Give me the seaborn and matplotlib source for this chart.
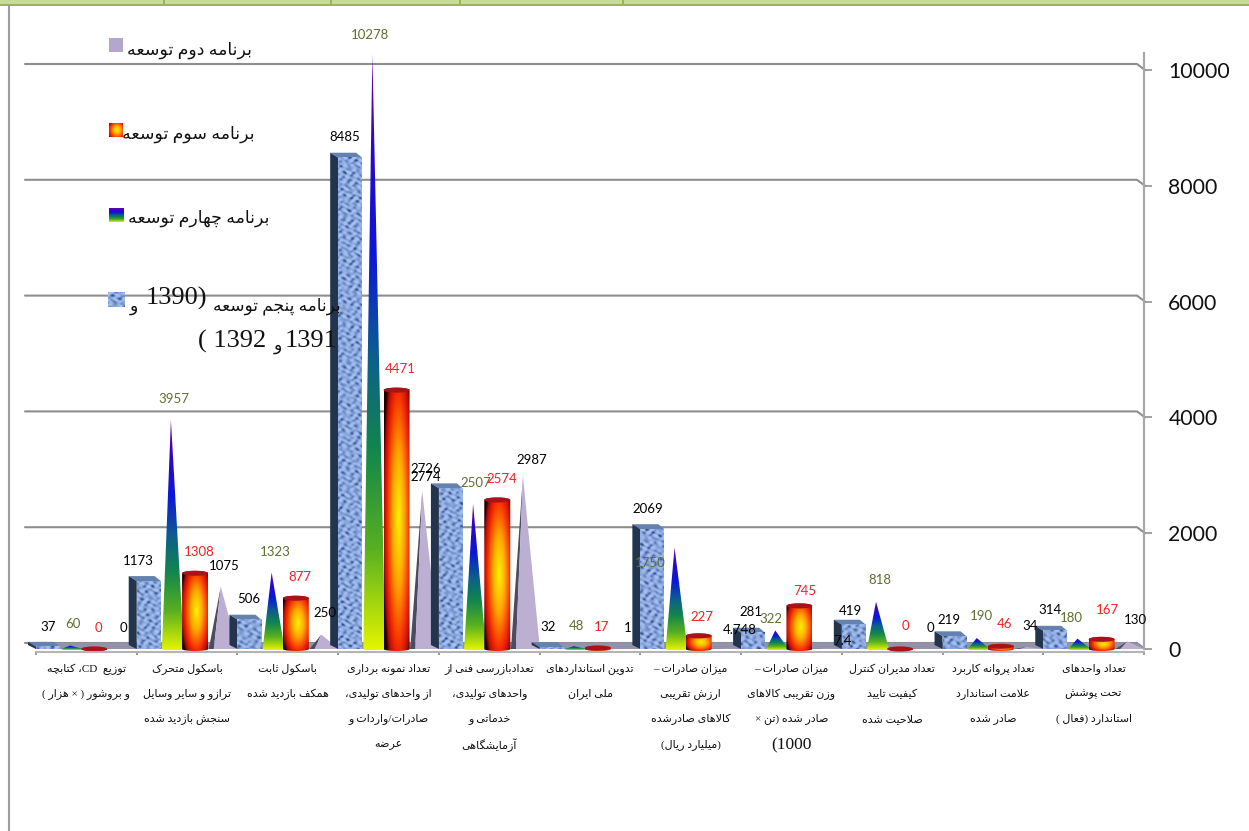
import matplotlib
matplotlib.use('Agg')
import re
import numpy as np
import pandas as pd
import matplotlib.pyplot as plt
import seaborn as sns
from matplotlib.colors import LinearSegmentedColormap
from matplotlib.lines import Line2D
from matplotlib.patches import Polygon, Rectangle
from matplotlib.transforms import Affine2D, blended_transform_factory

# Data
categories = [
    'توزیع  CD، کتابچه\nو بروشور ( × هزار )',
    'باسکول متحرک\nترازو و سایر وسایل\nسنجش بازدید شده',
    'باسکول ثابت\nهمکف بازدید شده',
    'تعداد نمونه برداری\nاز واحدهای تولیدی،\nصادرات/واردات و\nعرضه',
    'تعدادبازرسی فنی از\nواحدهای تولیدی،\nخدماتی و\nآزمایشگاهی',
    'تدوین استانداردهای\nملی ایران',
    'میزان صادرات –\nارزش تقریبی\nکالاهای صادرشده\n(میلیارد ریال)',
    'میزان صادرات –\nوزن تقریبی کالاهای\nصادر شده (تن ×\n1000)',
    'تعداد مدیران کنترل\nکیفیت تایید\nصلاحیت شده',
    'تعداد پروانه کاربرد\nعلامت استاندارد\nصادر شده',
    'تعداد واحدهای\nتحت پوشش\nاستاندارد (فعال )',
]
plan5 = [37, 1173, 506, 8485, 2774, 32, 2069, 281, 419, 219, 314]
plan4 = [60, 3957, 1323, 10278, 2507, 48, 1750, 322, 818, 190, 180]
plan3 = [0, 1308, 877, 4471, 2574, 17, 227, 745, 0, 46, 167]
plan2 = [0, 1075, 250, 2726, 2987, 1, 4.748, 7.4, 0, 34, 130]
y_ticks = [0, 2000, 4000, 6000, 8000, 10000]

legend_names = ['برنامه دوم توسعه', 'برنامه سوم توسعه', 'برنامه چهارم توسعه']
legend_last = 'برنامه پنجم توسعه'

# where the value labels sit in the picture, in pixels
xy5 = [(48, 627), (138, 561), (249, 599), (345, 137), (426, 477), (548, 627),
       (648, 509), (751, 612), (850, 611), (949, 620), (1050, 610)]
xy4 = [(73, 624), (174, 399), (275, 552), (370, 35), (476, 483), (577, 626),
       (650, 563), (771, 619), (880, 580), (981, 616), (1071, 618)]
xy3 = [(98, 628), (199, 552), (300, 577), (400, 369), (502, 479), (602, 627),
       (702, 617), (805, 591), (905, 626), (1005, 624), (1107, 610)]
xy2 = [(123, 628), (224, 566), (325, 613), (426, 469), (532, 460), (628, 628),
       (740, 630), (843, 641), (930, 628), (1030, 626), (1135, 620)]

# Persian text has to be shaped by hand, matplotlib does not join letters
four_forms = {'ب': 0xFE8F, 'پ': 0xFB56, 'ت': 0xFE95, 'ث': 0xFE99, 'ج': 0xFE9D, 'چ': 0xFB7A,
              'ح': 0xFEA1, 'خ': 0xFEA5, 'س': 0xFEB1, 'ش': 0xFEB5, 'ص': 0xFEB9, 'ض': 0xFEBD,
              'ط': 0xFEC1, 'ظ': 0xFEC5, 'ع': 0xFEC9, 'غ': 0xFECD, 'ف': 0xFED1, 'ق': 0xFED5,
              'ک': 0xFB8E, 'گ': 0xFB92, 'ل': 0xFEDD, 'م': 0xFEE1, 'ن': 0xFEE5, 'ه': 0xFEE9,
              'ی': 0xFBFC}
two_forms = {'ا': 0xFE8D, 'آ': 0xFE81, 'د': 0xFEA9, 'ذ': 0xFEAB, 'ر': 0xFEAD, 'ز': 0xFEAF,
             'ژ': 0xFB8A, 'و': 0xFEED}


def fa(line):
    line = line.replace('لا', '\uFEFB')
    out = []
    for i, ch in enumerate(line):
        prev = line[i - 1] if i > 0 else ''
        nxt = line[i + 1] if i < len(line) - 1 else ''
        joined_before = prev in four_forms
        joined_after = nxt in four_forms or nxt in two_forms or nxt == '\uFEFB'
        if ch == '\uFEFB':
            out.append('\uFEFC' if joined_before else ch)
        elif ch in four_forms:
            form = {(0, 0): 0, (1, 0): 1, (0, 1): 2, (1, 1): 3}[(int(joined_before), int(joined_after))]
            out.append(chr(four_forms[ch] + form))
        elif ch in two_forms:
            out.append(chr(two_forms[ch] + int(joined_before)))
        else:
            out.append(ch)
    # visual order, right to left, with latin and digits kept as they are
    parts = re.split(r'([0-9A-Za-z.]+)', ''.join(out))
    swap = str.maketrans('()', ')(')
    return ''.join(p if re.fullmatch(r'[0-9A-Za-z.]+', p) else p[::-1].translate(swap)
                   for p in parts[::-1])


FA_FONT = ['Liberation Serif', 'DejaVu Sans']
W, H = 1249, 831
PX_X = 1108 / 11   # pixels per category
PX_Y = 579 / 10000  # pixels per unit

sns.set_theme(style='white')
plt.rcParams['font.family'] = ['Lato', 'DejaVu Sans']

fig = plt.figure(figsize=(W / 100, H / 100), dpi=100, facecolor='white')
ax = fig.add_axes([36 / W, (H - 649) / H, 1108 / W, 579 / H], facecolor='none')
px = Affine2D().scale(1 / W, -1 / H).translate(0, 1) + fig.transFigure

df = pd.DataFrame({'category': categories, 'plan5': plan5, 'plan4': plan4, 'plan3': plan3, 'plan2': plan2})
long_df = df.melt(id_vars='category', var_name='plan', value_name='value')
sns.barplot(data=long_df, x='category', y='value', hue='plan',
            hue_order=['plan5', 'plan4', 'plan3', 'plan2'],
            width=1, gap=0, errorbar=None, legend=False, ax=ax)
ax.set_xlim(-0.5, 10.5)
ax.set_ylim(0, 10000)
ax.set_xlabel('')
ax.set_ylabel('')


def X(p):
    return (p - 36) / PX_X - 0.5


def Y(p):
    return (649 - p) / PX_Y


cone_map = LinearSegmentedColormap.from_list('cone', ['#6c00a8', '#2a08c8', '#0a18d8', '#0c5c90', '#12864c',
                                                      '#58b020', '#e2f400'])
cyl_map = LinearSegmentedColormap.from_list('cyl', [(0, '#fff200'), (0.35, '#ffa800'), (0.7, '#f42800'),
                                                    (0.88, '#b00c08'), (1, '#200000')])
tex_map = LinearSegmentedColormap.from_list('tex', ['#34508c', '#6d8dca', '#92aee2', '#a8c2ee'])


def texture(w, h, x0=0.0):
    # mottled blue pattern of the box bars
    xx, yy = np.meshgrid(np.arange(max(int(w), 2)) + x0, np.arange(max(int(h), 2)))
    f = (np.sin(xx * 0.83 + 2.1 * np.sin(yy * 0.29)) + np.sin(yy * 1.07 + 1.9 * np.sin(xx * 0.47))
         + 0.8 * np.sin((xx + yy) * 0.59 + np.sin(yy * 0.17)) + 0.6 * np.sin((xx - 2 * yy) * 0.71))
    return tex_map(np.clip((f + 3.0) / 5.0, 0, 1))


def cone_image():
    return cone_map(np.linspace(0, 1, 128))[:, None, :]


def cyl_image(shrink=1.0):
    u, v = np.meshgrid(np.linspace(-1, 1, 64), np.linspace(-1, 1, 128))
    return cyl_map(np.clip(np.sqrt((u * shrink - 0.12) ** 2 * 0.62 + (v * shrink) ** 2 * 0.5), 0, 1))


def put_image(img, x0, x1, y0, y1, z, clip=None):
    im = ax.imshow(img, extent=(x0, x1, y0, y1), aspect='auto', zorder=z, interpolation='bilinear')
    im.set_clip_box(fig.bbox)
    if clip is not None:
        p = Polygon(clip, closed=True, transform=ax.transData)
        im.set_clip_path(p)
    return im


def add_poly(pts, color, z):
    ax.add_patch(Polygon(pts, closed=True, facecolor=color, edgecolor='none', zorder=z, clip_on=False))


def arc(cx, rx, cy, ry, a0, a1, n=24):
    a = np.linspace(a0, a1, n)
    return np.column_stack([cx + rx * np.cos(a), cy + ry * np.sin(a)])


def draw_box(bar, z):
    x0, v = bar.get_x(), bar.get_height()
    dx, dy = 1 / PX_X, 1 / PX_Y
    x1 = x0 + 24 * dx
    add_poly([(x0, v), (x1, v), (x1 - 6 * dx, v + 5 * dy), (x0 - 8 * dx, v + 5 * dy)], '#6482ae', z)
    add_poly([(x0 - 8 * dx, 4 * dy), (x0, 0), (x0, v), (x0 - 8 * dx, v + 5 * dy)], '#22344e', z)
    if v * PX_Y >= 1:
        put_image(texture(24, v * PX_Y, x0 * 37), x0, x1, 0, v, z)


def draw_cone(bar, z):
    x0, v = bar.get_x(), bar.get_height()
    dx, dy = 1 / PX_X, 1 / PX_Y
    cx, rx = x0 + 11 * dx, 11 * dx
    pts = np.vstack([[(cx - 2 * dx, v)], arc(cx, rx, 0, 1.5 * dy, np.pi, 2 * np.pi)])
    put_image(cone_image(), cx - rx, cx + rx, -1.5 * dy, max(v, 1.5 * dy), z, clip=pts)


def draw_cyl(bar, z):
    x0, v = bar.get_x() - 5 / PX_X, bar.get_height()
    dx, dy = 1 / PX_X, 1 / PX_Y
    cx, rx = x0 + 13 * dx, 13 * dx
    body = np.vstack([arc(cx, rx, 0, 2 * dy, np.pi, 2 * np.pi), arc(cx, rx, v, 2.5 * dy, 0, np.pi)])
    put_image(cyl_image(), cx - rx, cx + rx, -2 * dy, v + 2.5 * dy, z, clip=body)
    add_poly(arc(cx, rx, v, 2.5 * dy, 0, 2 * np.pi, 40), '#a8121a', z)


def draw_pyramid(bar, z):
    x0, v = bar.get_x() - 3.5 / PX_X, bar.get_height()
    dx, dy = 1 / PX_X, 1 / PX_Y
    apex = (x0 + 12 * dx, v)
    add_poly([apex, (x0, 0), (x0 + 5 * dx, 0)], '#4c4c60', z)
    add_poly([apex, (x0 + 5 * dx, 0), (x0 + 29 * dx, 0)], '#bdafd2', z)


# Back wall, floor and right wall
for t in y_ticks:
    ax.plot([X(25), X(1137), X(1145)], [t + 6 / PX_Y, t + 6 / PX_Y, t], color='#8e8e8e', lw=1.5,
            zorder=1, clip_on=False)
add_poly([(X(27), Y(643)), (X(1137), Y(643)), (X(1144), Y(649)), (X(36), Y(649))], '#9292ac', 1.5)

# seaborn placed the bars, each plan gets its own solid on top of them
drawers = [draw_box, draw_cone, draw_cyl, draw_pyramid]
for k, (container, draw) in enumerate(zip(ax.containers, drawers)):
    for i, bar in enumerate(container):
        bar.set_visible(False)
        draw(bar, 2 + i + k * 0.1)

# Value labels
for vals, xy, col in [(plan5, xy5, 'black'), (plan4, xy4, '#5f6f32'), (plan3, xy3, '#f82020'), (plan2, xy2, 'black')]:
    for v, (lx, ly) in zip(vals, xy):
        ax.text(lx, ly, f'{v:g}', transform=px, ha='center', va='center', fontsize=9.5, color=col, zorder=30)

# Axes
sns.despine(ax=ax, left=True, top=True, right=False, bottom=False)
ax.spines['right'].set_color('#a8a8a8')
ax.spines['right'].set_linewidth(1.6)
ax.spines['right'].set_bounds(0, 10300)
ax.spines['bottom'].set_color('#b4b4b4')
ax.spines['bottom'].set_linewidth(1.5)
ax.spines['bottom'].set_position(('outward', 2))
ax.yaxis.tick_right()
ax.set_yticks(y_ticks)
ax.set_yticklabels([str(t) for t in y_ticks], fontsize=15.3, color='#111111')
ax.tick_params(axis='y', which='major', length=5.5, width=1.3, color='#9a9a9a', pad=12, right=True, left=False)
ax.set_xticks(np.arange(12) - 0.5)
ax.set_xticklabels([''] * 12)
ax.tick_params(axis='x', which='major', length=2.5, width=1.2, color='#8a8a8a', bottom=True)

# Category labels, one text per line to keep the line distance of the picture
line_y = [669, 694, 719, 745]
label_tr = blended_transform_factory(ax.transData, px)
for i, cat in enumerate(categories):
    for ly, line in zip(line_y, cat.split('\n')):
        size = 12.5 if line == '1000)' else 8
        ax.text(i, ly, fa(line), transform=label_tr, ha='center', va='center', fontsize=size, family=FA_FONT,
                color='#111111', clip_on=False)

# Legend
fig.add_artist(Rectangle((109, 38), 14, 14, transform=px, facecolor='#b4a6cc', edgecolor='none', zorder=40))
put_image(cyl_image(0.85), X(109), X(123), Y(137), Y(123), 40)
put_image(cone_image(), X(109), X(124), Y(222), Y(208), 40)
put_image(texture(16, 15), X(108), X(124), Y(307), Y(292), 40)
for name, (rx, ry) in zip(legend_names, [(252, 50), (255, 134), (270, 218)]):
    ax.text(rx, ry, fa(name), transform=px, ha='right', va='center', fontsize=12.5, family=FA_FONT, color='#111111',
            zorder=41)
# last entry wraps and has larger digits
legend_parts = [(fa(legend_last), 341, 306, 12.2), (fa('(1390'), 207, 298, 19), (fa('و'), 138, 307, 12.5),
                (fa('1391'), 338, 341, 19), (fa('و'), 282, 346, 12.5), (fa('1392 )'), 266, 341, 19)]
for txt, rx, ry, size in legend_parts:
    ax.text(rx, ry, txt, transform=px, ha='right', va='center', fontsize=size, family=FA_FONT, color='#111111',
            zorder=41)

# Page furniture around the chart
fig.add_artist(Rectangle((0, 0), W, 4, transform=px, facecolor='#c8da9c', edgecolor='none'))
fig.add_artist(Rectangle((0, 4), W, 2, transform=px, facecolor='#9fb060', edgecolor='none'))
for sep in [163, 330, 459, 622]:
    fig.add_artist(Rectangle((sep, 0), 2, 5, transform=px, facecolor='#9fb060', edgecolor='none'))
fig.add_artist(Line2D([9, 9], [6, H], transform=px, color='#9c9c9c', lw=1.5))

fig.savefig('out.png', dpi=100)
